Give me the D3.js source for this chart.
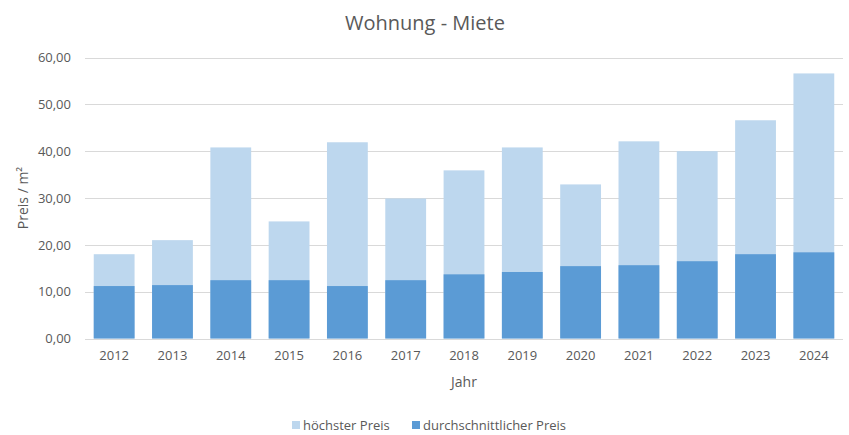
<!DOCTYPE html>
<html><head><meta charset="utf-8">
<script src="https://cdn.jsdelivr.net/npm/d3@7"></script>
<style>body{margin:0;background:#fff;}text{font-family:"Open Sans",Calibri,sans-serif;fill:#595959;}</style>
</head><body><svg id="c" width="849" height="435"></svg>
<script>
const years = ["2012","2013","2014","2015","2016","2017","2018","2019","2020","2021","2022","2023","2024"];
const hoechsterPreis = [18.0,21.0,40.8,25.0,41.9,29.9,35.9,40.8,32.9,42.1,40.0,46.6,56.6];
const durchschnittPreis = [11.2,11.4,12.45,12.45,11.2,12.45,13.7,14.2,15.45,15.65,16.5,18.0,18.4];
const yTicks = [0,10,20,30,40,50,60];
const seriesNames = ["höchster Preis","durchschnittlicher Preis"];
const colors = ["#BDD7EE","#5B9BD5"];

const svg = d3.select("#c");
const m = {l:85, r:6, t:57.5, b:97};
const W = 849, H = 435;
const x = d3.scaleBand().domain(years).range([m.l, W-m.r]).paddingInner(0.3).paddingOuter(0.15);
const y = d3.scaleLinear().domain([0,60]).range([338.5, 57.5]);
const fmt = v => d3.format(".2f")(v).replace(".", ",");

// gridlines
svg.append("g").selectAll("line").data(yTicks).join("line")
  .attr("x1", m.l).attr("x2", W-m.r)
  .attr("y1", d=>Math.round(y(d))+0.5).attr("y2", d=>Math.round(y(d))+0.5)
  .attr("stroke","#D9D9D9").attr("stroke-width",1);

// y axis labels
const ya = svg.append("g").attr("transform",`translate(${m.l},0)`)
  .call(d3.axisLeft(y).tickValues(yTicks).tickFormat(fmt).tickSize(0).tickPadding(14));
ya.select(".domain").remove();
ya.selectAll("text").style("font-size","13px").attr("fill","#595959");

// bars
svg.append("g").selectAll("rect").data(years).join("rect")
  .attr("x", d=>x(d)).attr("width", x.bandwidth())
  .attr("y", (d,i)=>y(hoechsterPreis[i])).attr("height",(d,i)=>y(0)-y(hoechsterPreis[i]))
  .attr("fill", colors[0]);
svg.append("g").selectAll("rect").data(years).join("rect")
  .attr("x", d=>x(d)).attr("width", x.bandwidth())
  .attr("y", (d,i)=>y(durchschnittPreis[i])).attr("height",(d,i)=>y(0)-y(durchschnittPreis[i]))
  .attr("fill", colors[1]);

// x axis
const xa = svg.append("g").attr("transform",`translate(0,${y(0)})`)
  .call(d3.axisBottom(x).tickSize(0).tickPadding(12));
xa.select(".domain").remove();
xa.selectAll("text").style("font-size","13px").attr("fill","#595959");

// titles
svg.append("text").attr("x", 425).attr("y", 30).attr("text-anchor","middle")
  .style("font-size","20px").text("Wohnung - Miete");
svg.append("text").attr("x", 464).attr("y", 387).attr("text-anchor","middle")
  .style("font-size","14px").text("Jahr");
svg.append("text").attr("transform","translate(28,198) rotate(-90)").attr("text-anchor","middle")
  .style("font-size","14px").text("Preis / m²");

// legend
const lg = svg.append("g");
const lx = [292, 412];
seriesNames.forEach((n,i)=>{
  lg.append("rect").attr("x", lx[i]).attr("y", 421).attr("width",8).attr("height",8).attr("fill",colors[i]);
  lg.append("text").attr("x", lx[i]+11).attr("y", 430).style("font-size","13px").text(n);
});
</script></body></html>
